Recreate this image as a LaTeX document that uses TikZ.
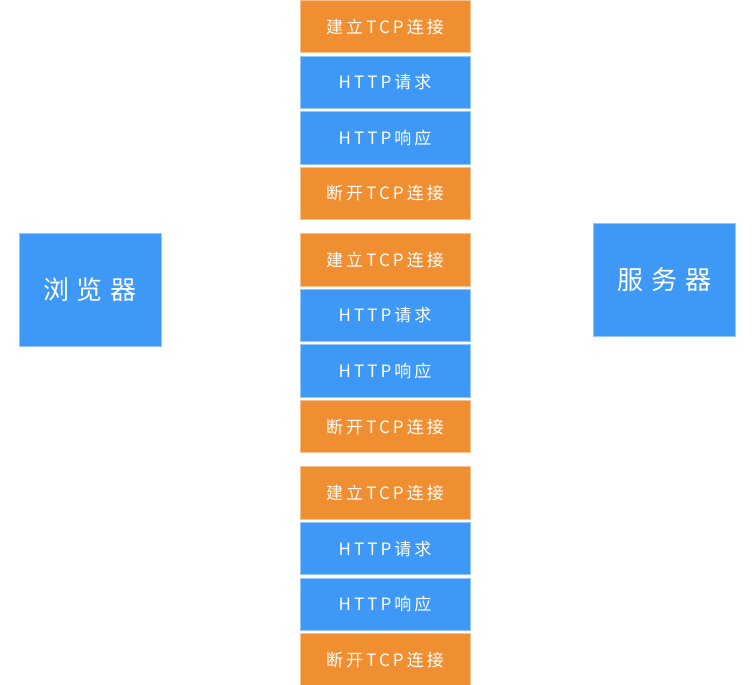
\documentclass[tikz,border=0pt]{standalone}
\usepackage{fontspec}
\setmainfont{Noto Sans CJK SC}
\usetikzlibrary{positioning}
\definecolor{connorange}{RGB}{240,142,50}
\definecolor{httpblue}{RGB}{62,152,245}

\begin{document}
\begin{tikzpicture}[x=1pt,y=1pt, node distance=3.2pt and 0pt,
    every node/.style={text=white, inner sep=0pt, outer sep=0pt}]
    % Styles
    \tikzset{conn/.style ={fill=connorange,draw=connorange!55!white,line width=0.8pt,
                           minimum width=170pt,minimum height=52.4pt,
                           font=\fontsize{17}{17}\selectfont\addfontfeature{LetterSpace=18}}}
    \tikzset{http/.style ={conn,fill=httpblue,draw=httpblue!55!white}}
    \tikzset{peer/.style ={fill=httpblue,draw=httpblue!55!white,line width=0.8pt,
                           minimum width=142pt,minimum height=113pt,
                           font=\fontsize{26}{26}\selectfont\addfontfeature{LetterSpace=30}}}

    \useasboundingbox (0,0) rectangle (752,-685);

    % End points
    \node[peer] (browser) at (90,-289.5)  {浏览器};
    \node[peer] (server)  at (664.5,-279.5) {服务器};

    % First connection
    \node[conn] (open1)  at (385,-26.6) {建立TCP连接};
    \node[http] (req1)   [below=of open1] {HTTP请求};
    \node[http] (resp1)  [below=of req1]  {HTTP响应};
    \node[conn] (close1) [below=of resp1] {断开TCP连接};

    % Second connection
    \node[conn] (open2)  [below=14pt of close1] {建立TCP连接};
    \node[http] (req2)   [below=of open2] {HTTP请求};
    \node[http] (resp2)  [below=of req2]  {HTTP响应};
    \node[conn] (close2) [below=of resp2] {断开TCP连接};

    % Third connection
    \node[conn] (open3)  [below=14pt of close2] {建立TCP连接};
    \node[http] (req3)   [below=of open3] {HTTP请求};
    \node[http] (resp3)  [below=of req3]  {HTTP响应};
    \node[conn] (close3) [below=of resp3] {断开TCP连接};
\end{tikzpicture}
\end{document}
